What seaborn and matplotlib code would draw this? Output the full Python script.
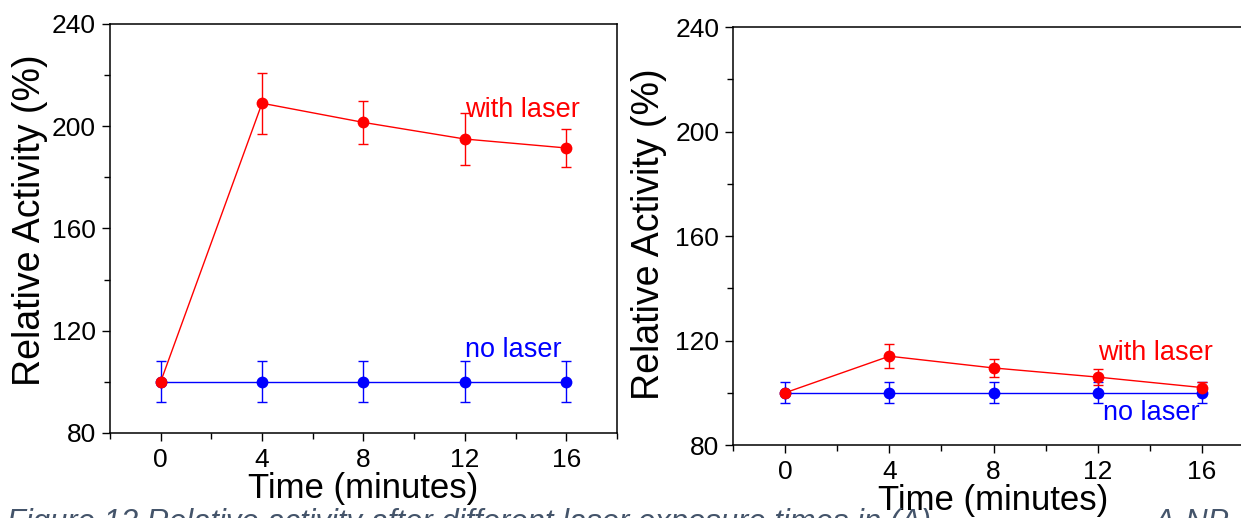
import numpy as np
import pandas as pd
import matplotlib
matplotlib.use("Agg")
import matplotlib.pyplot as plt
import seaborn as sns
from matplotlib.ticker import MultipleLocator

# --- Data ---
time_min = [0, 4, 8, 12, 16]

# panel A
a_laser = [100, 209, 201.5, 195, 191.5]
a_laser_err = [0, 12, 8.5, 10, 7.5]
a_nolaser = [100, 100, 100, 100, 100]
a_nolaser_err = [8, 8, 8, 8, 8]

# panel B
b_laser = [100, 114, 109.5, 106, 102]
b_laser_err = [0, 4.5, 3.5, 3, 2]
b_nolaser = [100, 100, 100, 100, 100]
b_nolaser_err = [4, 4, 4, 4, 4]

caption = ("Figure 13 Relative activity after different laser exposure times in (A)"
           "                          A-NP")

sns.set_style("ticks")
plt.rcParams["font.family"] = ["Liberation Sans", "DejaVu Sans"]
plt.rcParams["text.color"] = "black"
plt.rcParams["axes.labelcolor"] = "black"
plt.rcParams["xtick.color"] = "black"
plt.rcParams["ytick.color"] = "black"

RED = "#ff0000"
BLUE = "#0000ff"


def draw_panel(ax, laser, laser_err, nolaser, nolaser_err):
    df = pd.DataFrame({
        "time": time_min * 2,
        "activity": nolaser + laser,
        "err": nolaser_err + laser_err,
        "group": ["no laser"] * len(time_min) + ["with laser"] * len(time_min),
    })
    for grp, col in [("no laser", BLUE), ("with laser", RED)]:
        sub = df[df["group"] == grp]
        ax.errorbar(sub["time"], sub["activity"], yerr=sub["err"], fmt="none",
                    ecolor=col, elinewidth=1.0, capsize=3.5, capthick=1.0, zorder=2)
    sns.lineplot(data=df, x="time", y="activity", hue="group",
                 palette={"no laser": BLUE, "with laser": RED},
                 marker="o", markersize=8.5, markeredgewidth=0, linewidth=1.0,
                 legend=False, ax=ax, zorder=3)
    ax.set_xlim(-2, 18)
    ax.set_ylim(80, 240)
    ax.xaxis.set_major_locator(MultipleLocator(4))
    ax.xaxis.set_minor_locator(MultipleLocator(2))
    ax.yaxis.set_major_locator(MultipleLocator(40))
    ax.yaxis.set_minor_locator(MultipleLocator(20))
    ax.tick_params(which="major", direction="out", length=6, width=1.0,
                   labelsize=19, pad=4, color="black", labelcolor="black")
    ax.tick_params(which="minor", direction="out", length=4, width=1.0, color="black")
    ax.tick_params(axis="x", which="major", pad=5)
    ax.set_xlabel("Time (minutes)", fontsize=25)
    ax.set_ylabel("Relative Activity (%)", fontsize=27)
    for sp in ax.spines.values():
        sp.set_linewidth(1.1)
        sp.set_color("black")


fig = plt.figure(figsize=(12.41, 5.18), dpi=100)
ax1 = fig.add_axes([0.0886, 0.1641, 0.4085, 0.7896])
ax2 = fig.add_axes([0.5907, 0.1409, 0.4198, 0.8069])

draw_panel(ax1, a_laser, a_laser_err, a_nolaser, a_nolaser_err)
draw_panel(ax2, b_laser, b_laser_err, b_nolaser, b_nolaser_err)
ax2.spines["right"].set_visible(False)

ax1.xaxis.set_label_coords(0.5, -0.095)
ax2.xaxis.set_label_coords(0.5, -0.093)
ax1.yaxis.set_label_coords(-0.122, 0.52)
ax2.yaxis.set_label_coords(-0.127, 0.505)
ax1.xaxis.label.set_va("top")
ax2.xaxis.label.set_va("top")

ax1.text(12.0, 206.5, "with laser", color=RED, fontsize=19.5, va="center")
ax1.text(12.0, 112.5, "no laser", color=BLUE, fontsize=19.5, va="center")
ax2.text(12.0, 115.2, "with laser", color=RED, fontsize=19.5, va="center")
ax2.text(12.2, 92.2, "no laser", color=BLUE, fontsize=19.5, va="center")

# caption, cut off at the bottom edge like the source crop
fig.text(0.006, -0.026, caption,
         fontsize=22.3, style="italic", color="#44546a", va="baseline", ha="left")

fig.savefig("out.png", dpi=100)
